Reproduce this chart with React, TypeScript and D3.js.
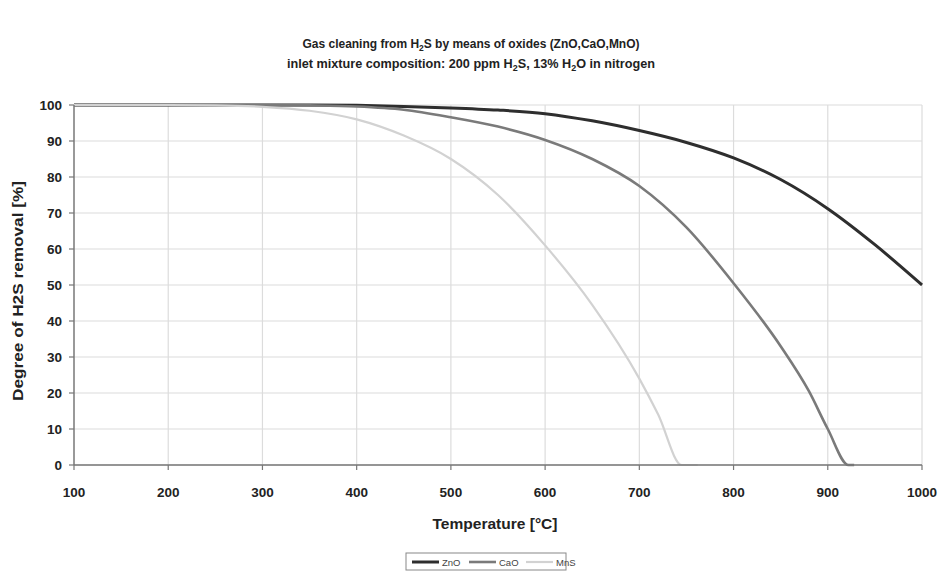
import React from "react";
import * as d3 from "d3";

const xTicks = [100, 200, 300, 400, 500, 600, 700, 800, 900, 1000];
const yTicks = [0, 10, 20, 30, 40, 50, 60, 70, 80, 90, 100];

const znoT = [100, 200, 300, 350, 400, 450, 500, 550, 600, 650, 700, 750, 800, 850, 900, 950, 1000];
const znoV = [100, 100, 100, 100, 99.9, 99.6, 99.2, 98.6, 97.6, 95.6, 92.9, 89.6, 85.3, 79.3, 71.2, 61.2, 50];

const caoT = [100, 200, 300, 350, 400, 450, 500, 550, 600, 650, 700, 750, 800, 850, 880, 900, 922, 928];
const caoV = [100, 100, 100, 99.9, 99.6, 98.7, 96.6, 94, 90.3, 85, 77.5, 66, 50.5, 33, 20.5, 10, 0, 0];

const mnsT = [100, 200, 250, 300, 350, 400, 450, 500, 550, 600, 650, 700, 720, 745, 762];
const mnsV = [100, 100, 99.9, 99.5, 98.4, 96, 91.5, 85, 75, 61, 44.5, 24, 14, 0, 0];

const seriesNames = ["ZnO", "CaO", "MnS"];

const series = [
  { name: seriesNames[0], t: znoT, v: znoV, color: "#2e2e2e", width: 3 },
  { name: seriesNames[1], t: caoT, v: caoV, color: "#7a7a7a", width: 2.6 },
  { name: seriesNames[2], t: mnsT, v: mnsV, color: "#d2d2d2", width: 2.2 },
];

export default function App() {
  const W = 939, H = 573;
  const left = 74, right = 922, top = 105, bottom = 465;
  const x = d3.scaleLinear().domain([100, 1000]).range([left, right]);
  const y = d3.scaleLinear().domain([0, 100]).range([bottom, top]);
  const line = d3
    .line<[number, number]>()
    .x((d) => x(d[0]))
    .y((d) => y(d[1]))
    .curve(d3.curveMonotoneX);

  const font = "'Liberation Sans', Arial, sans-serif";

  return (
    <svg width={W} height={H} style={{ position: "absolute", left: 0, top: 0 }} fontFamily={font}>
      <rect width={W} height={H} fill="#fff" />
      <text x={471} y={48} textAnchor="middle" fontSize={12} fontWeight="bold" fill="#222" textLength={337} lengthAdjust="spacingAndGlyphs">
        Gas cleaning from H<tspan fontSize={8.5} dy={3}>2</tspan><tspan dy={-3}>S by means of oxides (ZnO,CaO,MnO)</tspan>
      </text>
      <text x={471} y={68} textAnchor="middle" fontSize={12} fontWeight="bold" fill="#222" textLength={368} lengthAdjust="spacingAndGlyphs">
        inlet mixture composition: 200 ppm H<tspan fontSize={8.5} dy={3}>2</tspan><tspan dy={-3}>S, 13% H</tspan><tspan fontSize={8.5} dy={3}>2</tspan><tspan dy={-3}>O in nitrogen</tspan>
      </text>

      {/* grid */}
      {yTicks.map((t) => (
        <line key={"gy" + t} x1={left} x2={right} y1={y(t)} y2={y(t)} stroke="#dcdcdc" strokeWidth={1.2} />
      ))}
      {xTicks.slice(1).map((t) => (
        <line key={"gx" + t} x1={x(t)} x2={x(t)} y1={top} y2={bottom} stroke="#dcdcdc" strokeWidth={1.2} />
      ))}

      {/* series */}
      {series.map((s) => (
        <path
          key={s.name}
          d={line(s.t.map((t, i) => [t, s.v[i]] as [number, number])) || ""}
          fill="none"
          stroke={s.color}
          strokeWidth={s.width}
          strokeLinejoin="round"
        />
      ))}

      {/* axes */}
      <line x1={left} x2={left} y1={top} y2={bottom} stroke="#777" strokeWidth={1.5} />
      <line x1={left} x2={right} y1={bottom} y2={bottom} stroke="#777" strokeWidth={1.5} />
      {yTicks.map((t) => (
        <g key={"ty" + t}>
          <line x1={left - 5} x2={left} y1={y(t)} y2={y(t)} stroke="#777" strokeWidth={1.2} />
          <text x={left - 12} y={y(t) + 5} textAnchor="end" fontSize={13.5} fontWeight="bold" fill="#222">
            {t}
          </text>
        </g>
      ))}
      {xTicks.map((t) => (
        <g key={"tx" + t}>
          <line x1={x(t)} x2={x(t)} y1={bottom} y2={bottom + 5} stroke="#777" strokeWidth={1.2} />
          <text x={x(t)} y={bottom + 32} textAnchor="middle" fontSize={13.5} fontWeight="bold" fill="#222">
            {t}
          </text>
        </g>
      ))}
      <text x={495} y={529} textAnchor="middle" fontSize={14} fontWeight="bold" fill="#222" textLength={125} lengthAdjust="spacingAndGlyphs">
        Temperature [°C]
      </text>
      <text
        transform={`translate(23,${(top + bottom) / 2 + 6}) rotate(-90)`}
        textAnchor="middle"
        fontSize={14}
        fontWeight="bold"
        fill="#222"
        textLength={220}
        lengthAdjust="spacingAndGlyphs"
      >
        Degree of H2S removal [%]
      </text>

      {/* legend */}
      <rect x={406} y={553} width={160} height={17} fill="#fff" stroke="#888" strokeWidth={1} />
      {series.map((s, i) => {
        const lx = 412 + i * 57;
        return (
          <g key={"lg" + s.name}>
            <line x1={lx} x2={lx + 27} y1={562} y2={562} stroke={s.color} strokeWidth={s.width} />
            <text x={lx + 30} y={565.5} fontSize={9.5} fill="#444">
              {s.name}
            </text>
          </g>
        );
      })}
    </svg>
  );
}
